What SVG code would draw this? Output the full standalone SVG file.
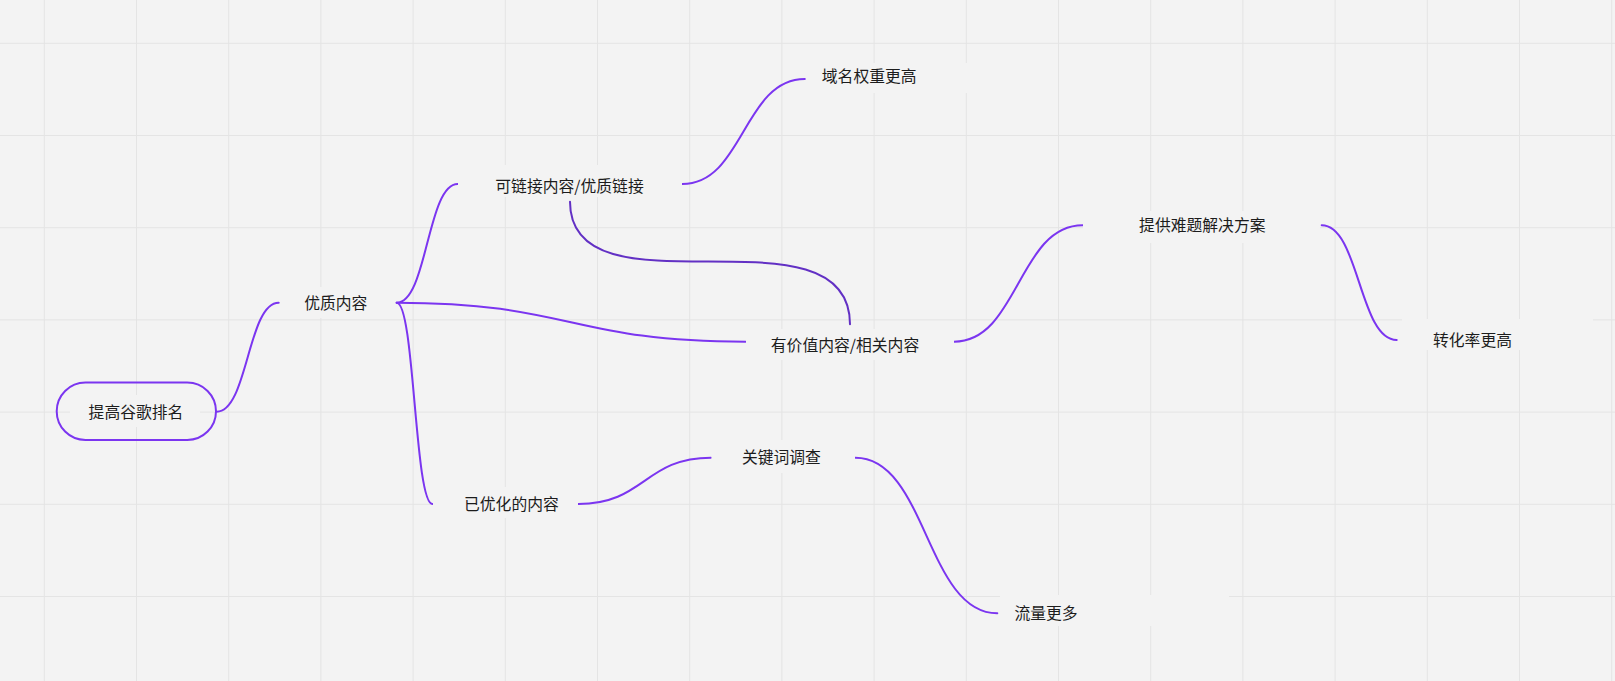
<svg xmlns="http://www.w3.org/2000/svg" width="1615" height="681" viewBox="0 0 1615 681">
<style>
.grid{stroke:#e4e4e4;stroke-width:1;fill:none}
.bgbox{fill:#f3f3f3;stroke:none}
.lbl{font-family:"Noto Sans CJK SC","Noto Sans",sans-serif;font-size:15.8px;fill:#1c1c1c;text-anchor:middle;dominant-baseline:central}
.link{fill:none;stroke:#7b35f0;stroke-width:2;stroke-linecap:round}
.link2{fill:none;stroke:#6230c4;stroke-width:2;stroke-linecap:round}
.pill{fill:none;stroke:#7b35f0;stroke-width:2}
</style>
<rect x="0" y="0" width="1615" height="681" fill="#f3f3f3"/>
<g id="grid" class="grid">
<path d="M44.3,0V681M136.5,0V681M228.7,0V681M320.9,0V681M413.1,0V681M505.3,0V681M597.5,0V681M689.7,0V681M781.9,0V681M874.1,0V681M966.3,0V681M1058.5,0V681M1150.7,0V681M1242.9,0V681M1335.1,0V681M1427.3,0V681M1519.5,0V681M1611.7,0V681"/>
<path d="M0,43.3H1615M0,135.5H1615M0,227.7H1615M0,319.9H1615M0,412.1H1615M0,504.3H1615M0,596.5H1615"/>
</g>
<g id="connectors">
<path class="link" d="M216.7,411.7 C247.7,411.7 247.7,302.7 278.7,302.7"/>
<path class="link" d="M396.7,302.7 C427.2,302.7 427.2,184 457.7,184"/>
<path class="link" d="M396.7,302.7 C571,302.7 571,341.7 745.5,341.7"/>
<path class="link" d="M396.7,302.7 C414.6,302.7 414.6,504 432.5,504"/>
<path class="link" d="M682.3,184 C743.5,184 743.5,79 804.8,79"/>
<path class="link2" d="M570,201.7 C570,322 850,200 850,324.3"/>
<path class="link" d="M954,341.7 C1018.3,341.7 1018.3,225.3 1082.7,225.3"/>
<path class="link" d="M1321.7,225.3 C1359.2,225.3 1359.2,340 1396.7,340"/>
<path class="link" d="M578.3,504 C644.6,504 644.6,457.7 711,457.7"/>
<path class="link" d="M855.4,457.7 C926.4,457.7 926.4,613.3 997.3,613.3"/>
</g>
<g id="node-root">
<rect class="bgbox" x="70" y="395" width="130" height="32"/>
<rect class="pill" x="56.7" y="382.5" width="159.3" height="57.5" rx="28.75" ry="28.75"/>
<text class="lbl" x="136" y="411">提高谷歌排名</text>
</g>
<g id="node-youzhi">
<rect class="bgbox" x="283" y="287" width="109" height="31"/>
<text class="lbl" x="335.8" y="302.7">优质内容</text>
</g>
<g id="node-kelianjie">
<rect class="bgbox" x="458" y="165" width="224" height="32"/>
<text class="lbl" x="569.5" y="185">可链接内容/优质链接</text>
</g>
<g id="node-yuming">
<rect class="bgbox" x="806" y="63" width="170" height="30"/>
<text class="lbl" x="869.2" y="75.7">域名权重更高</text>
</g>
<g id="node-youjiazhi">
<rect class="bgbox" x="746" y="329" width="208" height="31"/>
<text class="lbl" x="845" y="344">有价值内容/相关内容</text>
</g>
<g id="node-tigong">
<rect class="bgbox" x="1083" y="211" width="237" height="32"/>
<text class="lbl" x="1202.3" y="224.3">提供难题解决方案</text>
</g>
<g id="node-zhuanhua">
<rect class="bgbox" x="1402" y="319" width="191" height="31"/>
<text class="lbl" x="1472.5" y="339.3">转化率更高</text>
</g>
<g id="node-yiyouhua">
<rect class="bgbox" x="433" y="487" width="145" height="31"/>
<text class="lbl" x="511.4" y="503.3">已优化的内容</text>
</g>
<g id="node-guanjianci">
<rect class="bgbox" x="711.5" y="440" width="143.5" height="33"/>
<text class="lbl" x="781.4" y="456.7">关键词调查</text>
</g>
<g id="node-liuliang">
<rect class="bgbox" x="1000" y="595" width="229" height="31"/>
<text class="lbl" x="1046" y="612.3">流量更多</text>
</g>
</svg>
